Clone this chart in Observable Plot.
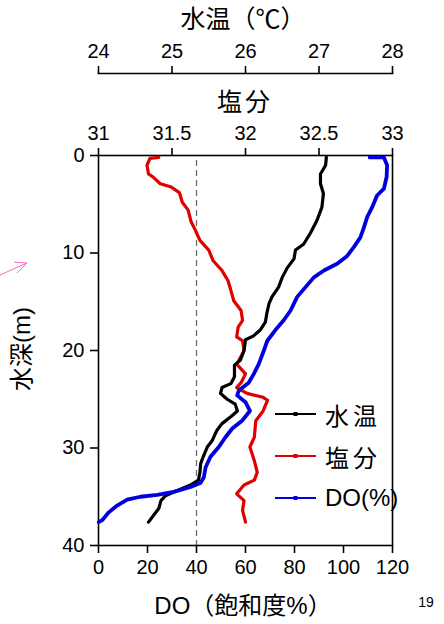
<!DOCTYPE html>
<html><head><meta charset="utf-8">
<script src="https://cdn.jsdelivr.net/npm/d3@7"></script>
<script src="https://cdn.jsdelivr.net/npm/@observablehq/plot@0.6"></script>
<style>
body{margin:0;background:#fff;}
#wrap{position:relative;width:444px;height:624px;overflow:hidden;font-family:'Liberation Sans','Noto Sans CJK JP',sans-serif;color:#000;}
.layer{position:absolute;left:0;top:0;}
.t{position:absolute;transform:translate(-50%,-50%);white-space:nowrap;line-height:1;}
.legend{position:absolute;left:274px;top:393px;}
.row{display:flex;align-items:center;height:42px;}
.row span{margin-left:8px;font-size:24px;}
</style></head>
<body><div id="wrap"></div>
<script>
// ---- data ----
const depthTicks = [0, 10, 20, 30, 40];
const doTicks = [0, 20, 40, 60, 80, 100, 120];
const salTicks = [31, 31.5, 32, 32.5, 33];
const tempTicks = [24, 25, 26, 27, 28];
const refDO = [40];

const tempDepth = [0.2,1.0,1.9,2.9,3.9,5.3,6.7,8.0,9.1,9.7,10.6,11.5,12.5,13.5,14.5,15.2,16.2,17.1,17.9,18.5,18.9,20.0,21.0,21.5,22.7,23.4,23.8,24.4,25.0,25.5,26.2,26.8,27.5,28.2,29.2,29.9,30.8,31.6,32.5,33.3,33.8,34.3,34.9,35.4,36.2,36.9,37.6];
const tempVals  = [27.10,27.09,27.02,27.02,27.06,27.04,26.97,26.88,26.79,26.68,26.66,26.57,26.50,26.45,26.36,26.32,26.29,26.27,26.20,26.11,26.00,25.98,25.93,25.85,25.85,25.80,25.68,25.66,25.75,25.86,25.89,25.80,25.68,25.61,25.55,25.48,25.43,25.39,25.38,25.36,25.25,25.09,24.91,24.85,24.82,24.75,24.68];

const salDepth = [0.2,0.3,1.0,1.9,2.2,2.9,3.2,3.8,4.8,5.6,6.8,7.7,8.7,9.7,10.8,11.8,12.8,13.8,14.9,15.9,16.9,17.6,18.6,19.0,20.0,20.3,21.4,22.4,23.3,23.8,24.4,24.8,25.1,26.2,27.2,28.9,29.9,31.3,32.5,33.3,33.8,34.7,35.4,36.4,37.6];
const salVals  = [31.41,31.35,31.33,31.34,31.37,31.42,31.49,31.55,31.57,31.61,31.63,31.66,31.69,31.75,31.78,31.84,31.88,31.90,31.92,31.97,31.98,31.95,31.94,31.98,31.99,31.98,31.94,32.00,31.97,31.94,32.01,32.12,32.15,32.12,32.07,32.06,32.03,32.06,32.08,32.06,31.99,31.94,31.99,31.98,32.00];

const doDepth = [0.2,0.2,1.0,2.2,3.4,4.1,5.3,6.3,7.4,8.4,9.4,10.3,11.1,11.8,12.5,13.5,14.5,15.9,16.9,17.9,19.0,20.0,21.4,22.4,23.3,24.1,24.6,25.3,26.2,27.2,28.0,28.9,29.9,30.9,32.0,33.0,33.6,34.0,34.5,34.8,35.0,35.3,35.9,36.6,37.4,37.6];
const doVals  = [110.7,116.5,117.8,117.6,116.5,113.7,111.7,109.7,108.3,106.9,104.2,101.5,97.4,92.0,87.9,84.5,81.1,78.4,75.6,72.2,68.9,67.5,65.4,63.4,61.3,57.3,56.6,60.0,61.8,58.6,54.6,51.8,49.1,45.7,43.7,43.0,41.6,37.6,30.7,24.0,17.1,11.7,7.6,4.2,1.5,0.1];

const seriesNames  = ["水温", "塩分", "DO(%)"];
const seriesColors = ["#000000", "#e00000", "#0000dd"];

const titleTemp = "水温（℃）";
const titleSal = "塩分";
const titleDO = "DO（飽和度%）";
const titleDepth = "水深(m)";
const pageNo = "19";

// ---- build ----
const W = 444, H = 624;
const M = {top: 155, right: 52, bottom: 79, left: 98};
const FONT = "'Liberation Sans','Noto Sans CJK JP',sans-serif";
const yScale = {domain: [0, 40], range: [M.top, H - M.bottom]};
const style = {background: "transparent", fontFamily: FONT, fontSize: "20px", color: "#000", overflow: "visible"};
const common = {width: W, height: H, marginTop: M.top, marginRight: M.right, marginBottom: M.bottom, marginLeft: M.left, style};

const toRows = (ds, vs) => ds.map((d, i) => ({d, v: vs[i]}));
const tempData = toRows(tempDepth, tempVals);
const salData = toRows(salDepth, salVals);
const doData = toRows(doDepth, doVals);

const wrap = document.getElementById("wrap");
function addLayer(svg) { svg.classList.add("layer"); wrap.appendChild(svg); }

// base layer: frame, DO axis, depth axis, reference line
addLayer(Plot.plot({
  ...common,
  x: {domain: [0, 120]},
  y: yScale,
  marks: [
    Plot.ruleX(refDO, {stroke: "#6e6e6e", strokeWidth: 1.3, strokeDasharray: "6,4", insetTop: 5}),
    Plot.frame({stroke: "#000", strokeWidth: 1.6}),
    Plot.axisX(doTicks, {anchor: "bottom", tickSize: 8, tickPadding: 6, strokeWidth: 1.6, fontSize: 20, label: null}),
    Plot.axisY(depthTicks, {anchor: "left", tickSize: 8, tickPadding: 6, strokeWidth: 1.6, fontSize: 20, label: null})
  ]
}));

// salinity layer
addLayer(Plot.plot({
  ...common,
  x: {domain: [31, 33]},
  y: {...yScale, axis: null},
  marks: [
    Plot.axisX(salTicks, {anchor: "top", tickSize: 8, tickPadding: 8, strokeWidth: 1.6, fontSize: 20, label: null, tickFormat: d => String(d)}),
    Plot.line(salData, {x: "v", y: "d", stroke: seriesColors[1], strokeWidth: 3.2})
  ]
}));

// temperature layer (axis sits higher)
addLayer(Plot.plot({
  ...common,
  marginTop: 73,
  x: {domain: [24, 28]},
  y: {...yScale, axis: null},
  marks: [
    Plot.frame({anchor: "top", stroke: "#000", strokeWidth: 1.6}),
    Plot.axisX(tempTicks, {anchor: "top", tickSize: 8, tickPadding: 8, strokeWidth: 1.6, fontSize: 20, label: null}),
    Plot.line(tempData, {x: "v", y: "d", stroke: seriesColors[0], strokeWidth: 3.2})
  ]
}));

// DO layer
addLayer(Plot.plot({
  ...common,
  x: {domain: [0, 120], axis: null},
  y: {...yScale, axis: null},
  marks: [
    Plot.line(doData, {x: "v", y: "d", stroke: seriesColors[2], strokeWidth: 3.8})
  ]
}));

// titles
function addText(txt, x, y, size, extra) {
  const el = document.createElement("div");
  el.className = "t";
  el.textContent = txt;
  el.style.left = x + "px"; el.style.top = y + "px"; el.style.fontSize = size + "px";
  if (extra) Object.assign(el.style, extra);
  wrap.appendChild(el);
  return el;
}
addText(titleTemp, 243, 19, 25);
addText(titleSal, 245, 102, 25, {letterSpacing: "3px"});
addText(titleDO, 243, 606, 24);
addText(titleDepth, 22, 349, 24, {transform: "translate(-50%,-50%) rotate(-90deg)"});
addText(pageNo, 426, 602, 14);

// legend
const leg = document.createElement("div");
leg.className = "legend";
seriesNames.forEach((name, i) => {
  const row = document.createElement("div");
  row.className = "row";
  const cjk = /[^\x00-\x7f]/.test(name);
  row.innerHTML = `<svg width="43" height="10"><line x1="1" x2="42" y1="5" y2="5" stroke="${seriesColors[i]}" stroke-width="2"/><rect x="19.5" y="3" width="4" height="4" fill="${seriesColors[i]}"/></svg><span style="letter-spacing:${cjk ? 4 : 0}px">${name}</span>`;
  leg.appendChild(row);
});
wrap.appendChild(leg);

// small pink annotation arrow at left margin
const ann = document.createElementNS("http://www.w3.org/2000/svg", "svg");
ann.setAttribute("width", "40"); ann.setAttribute("height", "30");
ann.style.position = "absolute"; ann.style.left = "0px"; ann.style.top = "255px";
ann.innerHTML = '<g fill="none" stroke="#ff66cc" stroke-width="1"><line x1="0" y1="20" x2="27" y2="8"/><polyline points="14,7 27,8 17,18"/></g>';
wrap.appendChild(ann);
</script>
</body></html>
